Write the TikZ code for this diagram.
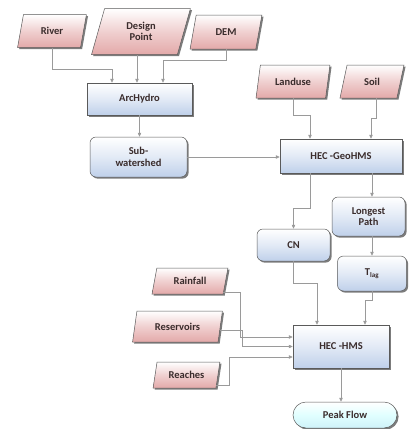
\documentclass[tikz,border=0pt]{standalone}
\usepackage{fontspec}
\setmainfont{Carlito}
\usetikzlibrary{shapes.geometric,shadows,arrows.meta}
\definecolor{txt}{HTML}{3A2C2C}
\definecolor{pinkc}{HTML}{E3A9A9}
\definecolor{bluec}{HTML}{BFD0EA}
\definecolor{edgec}{HTML}{5A5A5A}
\definecolor{arrc}{HTML}{9A9A9A}
\definecolor{shad}{HTML}{6E6E6E}
\tikzset{
  base/.style={draw=edgec, line width=0.5pt, text=txt, font=\bfseries\fontsize{10.5}{11.5}\selectfont, align=center, inner sep=1pt,
    drop shadow={shadow xshift=1.6pt, shadow yshift=-1.6pt, fill=shad, opacity=0.9}},
  inbox/.style={base, trapezium, trapezium left angle=75, trapezium right angle=105, trapezium stretches=true,
    top color=white, bottom color=pinkc, middle color=pinkc!55},
  procbox/.style={base, rectangle, top color=white, bottom color=bluec, middle color=bluec!45},
  roundbox/.style={procbox, rounded corners=6pt},
  endbox/.style={base, rectangle, rounded corners=13pt, top color=white, bottom color=bluec!70!cyan!40, middle color=cyan!12},
  arr/.style={draw=arrc, line width=0.6pt, -{Triangle[length=4pt,width=3.5pt]}}
}
\begin{document}
\begin{tikzpicture}[x=1pt,y=-1pt]
\useasboundingbox (0,0) rectangle (408,429);
% inputs
\node[inbox, minimum width=69pt, minimum height=33pt] (river) at (52,31) {River};
\node[inbox, minimum width=99pt, minimum height=46pt] (dp) at (141,31.5) {Design\\Point};
\node[inbox, minimum width=72pt, minimum height=34pt] (dem) at (226,32) {DEM};
\node[inbox, minimum width=74pt, minimum height=33pt] (lu) at (293,81.5) {Landuse};
\node[inbox, minimum width=64pt, minimum height=33pt] (soil) at (372,81.5) {Soil};
\node[inbox, minimum width=76pt, minimum height=26pt] (rain) at (190,281) {Rainfall};
\node[inbox, minimum width=90pt, minimum height=31pt] (res) at (177.5,326.5) {Reservoirs};
\node[inbox, minimum width=67pt, minimum height=26pt] (reach) at (186.5,375) {Reaches};
% processes
\node[procbox, minimum width=105pt, minimum height=32pt] (arc) at (139.5,99) {ArcHydro};
\node[roundbox, minimum width=97pt, minimum height=40pt] (sub) at (138.5,157) {Sub-\\watershed};
\node[procbox, minimum width=122pt, minimum height=34pt] (geo) at (341,156) {HEC -GeoHMS};
\node[roundbox, minimum width=73pt, minimum height=32pt] (cn) at (293.5,245) {CN};
\node[roundbox, minimum width=73pt, minimum height=39pt] (lp) at (368.5,216.5) {Longest\\Path};
\node[roundbox, minimum width=69pt, minimum height=35pt] (tlag) at (372,273.5) {T\textsubscript{\fontsize{7}{8}\selectfont lag}};
\node[procbox, minimum width=96pt, minimum height=43pt] (hms) at (341,346.5) {HEC -HMS};
\node[endbox, minimum width=104pt, minimum height=26pt] (peak) at (345,415) {Peak Flow};
% connectors
\draw[arr] (river.south) -- ++(0,22) -| ([xshift=-27.5pt]arc.north);
\draw[arr] ([xshift=-2.5pt]arc.north |- dp.south) -- ([xshift=-2.5pt]arc.north);
\draw[arr] (dem.south) -- ++(0,11) -| ([xshift=23.5pt]arc.north);
\draw[arr] (arc.south) -- (arc.south |- sub.north);
\draw[arr] (sub.east) -- (sub.east -| geo.west);
\draw[arr] (lu.south) -- ++(0,17) -| ([xshift=-31pt]geo.north);
\draw[arr] ([xshift=4pt]soil.south) -- ++(0,20) -| ([xshift=30pt]geo.north);
\draw[arr] ([xshift=-31pt]geo.south) -- ++(0,35) -| (cn.north);
\draw[arr] ([xshift=31pt]geo.south) -- ([xshift=31pt]geo.south |- lp.north);
\draw[arr] (tlag.north |- lp.south) -- (tlag.north);
\draw[arr] (cn.south) -- ++(0,22) -| ([xshift=-24pt]hms.north);
\draw[arr] (tlag.south) -- ++(0,9) -| ([xshift=24pt]hms.north);
\draw[arr] ([yshift=1.5pt]rain.bottom right corner) -- ++(17,0) |- ([yshift=9.5pt]hms.west);
\draw[arr] ([yshift=-4pt]res.east) -- ++(22,0) |- (hms.west);
\draw[arr] ([yshift=3pt]reach.bottom right corner) -- ++(13,0) |- ([yshift=-10.5pt]hms.west);
\draw[arr] (hms.south) -- (hms.south |- peak.north);
\end{tikzpicture}
\end{document}
